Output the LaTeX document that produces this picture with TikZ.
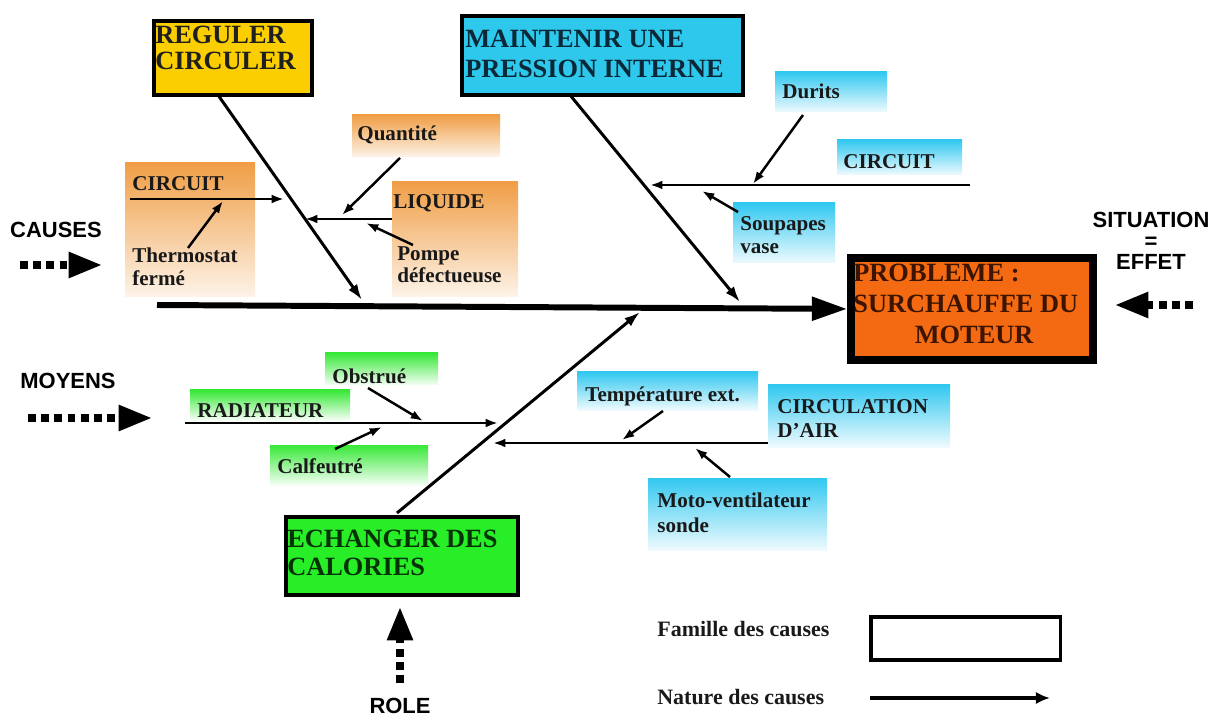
\documentclass[tikz,border=0pt]{standalone}
\usepackage{fontspec}
\setmainfont{Liberation Serif}
\newfontfamily\sanslab{Liberation Sans}
\usetikzlibrary{arrows.meta}

\definecolor{jaune}{RGB}{250,206,0}
\definecolor{cyanf}{RGB}{45,200,235}
\definecolor{vertf}{RGB}{40,238,40}
\definecolor{orangef}{RGB}{244,106,18}
\definecolor{orclair}{RGB}{240,158,70}
\definecolor{cyclair}{RGB}{50,200,240}
\definecolor{vtclair}{RGB}{55,232,55}

\begin{document}
\begin{tikzpicture}[x=0.02cm,y=-0.02cm,
    famille/.style={draw=black,line width=2.3pt,anchor=north west,inner sep=0pt},
    grtexte/.style={anchor=north west,inner sep=0pt,align=left},
    cause/.style={anchor=north west,inner sep=0pt,align=left,text=black!90,font=\bfseries\fontsize{12}{13}\selectfont},
    consigne/.style={inner sep=0pt,align=center,font=\sanslab\bfseries\fontsize{12.5}{12}\selectfont},
    orbox/.style={top color=orclair,bottom color=orclair!12},
    cybox/.style={top color=cyclair,bottom color=cyclair!8},
    vtbox/.style={top color=vtclair,bottom color=vtclair!5},
    arete/.style={line width=1.7pt,-{Latex[length=9pt,width=6pt]}},
    fleche/.style={line width=1.4pt,-{Latex[length=7pt,width=5pt]}},
    pointille/.style={line width=4pt,dash pattern=on 4.5pt off 3pt,-{Triangle[length=19pt,width=14pt]}}]

\useasboundingbox (0,0) rectangle (1226,722);

% fonds degrades
\foreach \a/\b/\c/\d in {352/115/500/157,125/163/255/297,392/182/518/297}
  \shade[orbox] (\a,\b) rectangle (\c,\d);
\foreach \a/\b/\c/\d in {775/72/887/112,837/140/962/175,733/203/835/263,577/372/758/410,768/385/950/447,648/478/827/550}
  \shade[cybox] (\a,\b) rectangle (\c,\d);
\foreach \a/\b/\c/\d in {325/353/438/385,190/390/350/420,270/445/428/485}
  \shade[vtbox] (\a,\b) rectangle (\c,\d);

% familles
\node[famille,fill=jaune,minimum width=3.16cm,minimum height=1.48cm] (reg) at (152,19) {};
\node[famille,fill=cyanf,minimum width=5.62cm,minimum height=1.58cm] (mai) at (460,14) {};
\node[famille,fill=vertf,minimum width=4.64cm,minimum height=1.56cm] (ech) at (284,515) {};
\node[famille,fill=orangef,line width=4.5pt,minimum width=4.84cm,minimum height=2.04cm] (prob) at (847,254) {};
\node[famille,line width=2pt,minimum width=3.8cm,minimum height=0.86cm] (legbox) at (869,615) {};

\node[grtexte,text=black!88,font=\bfseries\fontsize{15}{14.5}\selectfont] (regtxt) at (155,26) {REGULER\\CIRCULER};
\node[grtexte,text={rgb,255:red,10;green,40;blue,55},font=\bfseries\fontsize{15}{17}\selectfont] (maitxt) at (465,30) {MAINTENIR UNE\\PRESSION INTERNE};
\node[grtexte,text={rgb,255:red,5;green,50;blue,5},font=\bfseries\fontsize{15}{16}\selectfont] (echtxt) at (287,530) {ECHANGER DES\\CALORIES};
\node[grtexte,text={rgb,255:red,60;green,20;blue,0},font=\bfseries\fontsize{15}{17.5}\selectfont] (probtxt) at (853,264) {PROBLEME :\\SURCHAUFFE DU\\\hspace*{35pt}MOTEUR};

% points des aretes
\foreach \n/\x/\y in {queue/157/305, r1/218/95, r2/362/300, m1/570/95, m2/740/302, e1/397/513, e2/640/312,
    cg1/130/199, cg2/284/199, lq1/392/219, lq2/305/219, cd1/970/185, cd2/650/185,
    rd1/185/423, rd2/498/423, ca1/768/443, ca2/493/443,
    th1/188/248, th2/223/201, qu1/400/158, qu2/342/215, po1/413/245, po2/366/223,
    du1/803/115, du2/753/184, so1/738/212, so2/702/191, ob1/368/388, ob2/423/421,
    cf1/335/449, cf2/382/427, te1/663/411, te2/622/440, mo1/730/477, mo2/695/448,
    ca/20/265, cb/102/265, ma/28/418, mb/152/418, ea/1193/305, eb/1115/305,
    ra/400/683, rb/400/607, na/870/698, nb/1050/698}
  \coordinate (\n) at (\x,\y);

\draw[line width=3.4pt,-{Triangle[length=20pt,width=13pt]}] (queue) -- (prob.west);
\foreach \a/\b in {r1/r2,m1/m2,e1/e2}
  \draw[arete] (\a) -- (\b);
\foreach \a/\b in {cg1/cg2,lq1/lq2,cd1/cd2,rd1/rd2,ca1/ca2,th1/th2,qu1/qu2,po1/po2,
    du1/du2,so1/so2,ob1/ob2,cf1/cf2,te1/te2,mo1/mo2}
  \draw[fleche] (\a) -- (\b);
\foreach \a/\b in {ca/cb,ma/mb,ea/eb,ra/rb}
  \draw[pointille] (\a) -- (\b);
\draw[line width=2.2pt,-{Latex[length=8pt,width=7pt]}] (na) -- (nb);

% causes
\node[cause] (cirG) at (132,176) {CIRCUIT};
\node[cause] (thermo) at (132,248) {Thermostat\\fermé};
\node[cause] (quant) at (357,126) {Quantité};
\node[cause] (liq) at (393,194) {LIQUIDE};
\node[cause] (pompe) at (397,246) {Pompe\\défectueuse};
\node[cause] (durits) at (782,84) {Durits};
\node[cause] (cirD) at (843,154) {CIRCUIT};
\node[cause] (soup) at (740,216) {Soupapes\\vase};
\node[cause] (obst) at (332,368) {Obstrué};
\node[cause] (radia) at (197,403) {RADIATEUR};
\node[cause] (calf) at (277,458) {Calfeutré};
\node[cause] (temp) at (585,386) {Température ext.};
\node[cause,font=\bfseries\fontsize{12}{14}\selectfont] (circu) at (777,399) {CIRCULATION\\D'AIR};
\node[cause,font=\bfseries\fontsize{12}{14}\selectfont] (moto) at (657,493) {Moto-ventilateur\\sonde};
\node[cause,font=\bfseries\fontsize{12.5}{13}\selectfont] (fam) at (657,621) {Famille des causes};
\node[cause,font=\bfseries\fontsize{12.5}{13}\selectfont] (nat) at (657,689) {Nature des causes};

\node[consigne] (causes) at (56,230) {CAUSES};
\node[consigne] (moyens) at (68,381) {MOYENS};
\node[consigne] (situ) at (1151,241) {SITUATION\\=\\EFFET};
\node[consigne] (role) at (400,706) {ROLE};
\end{tikzpicture}
\end{document}
